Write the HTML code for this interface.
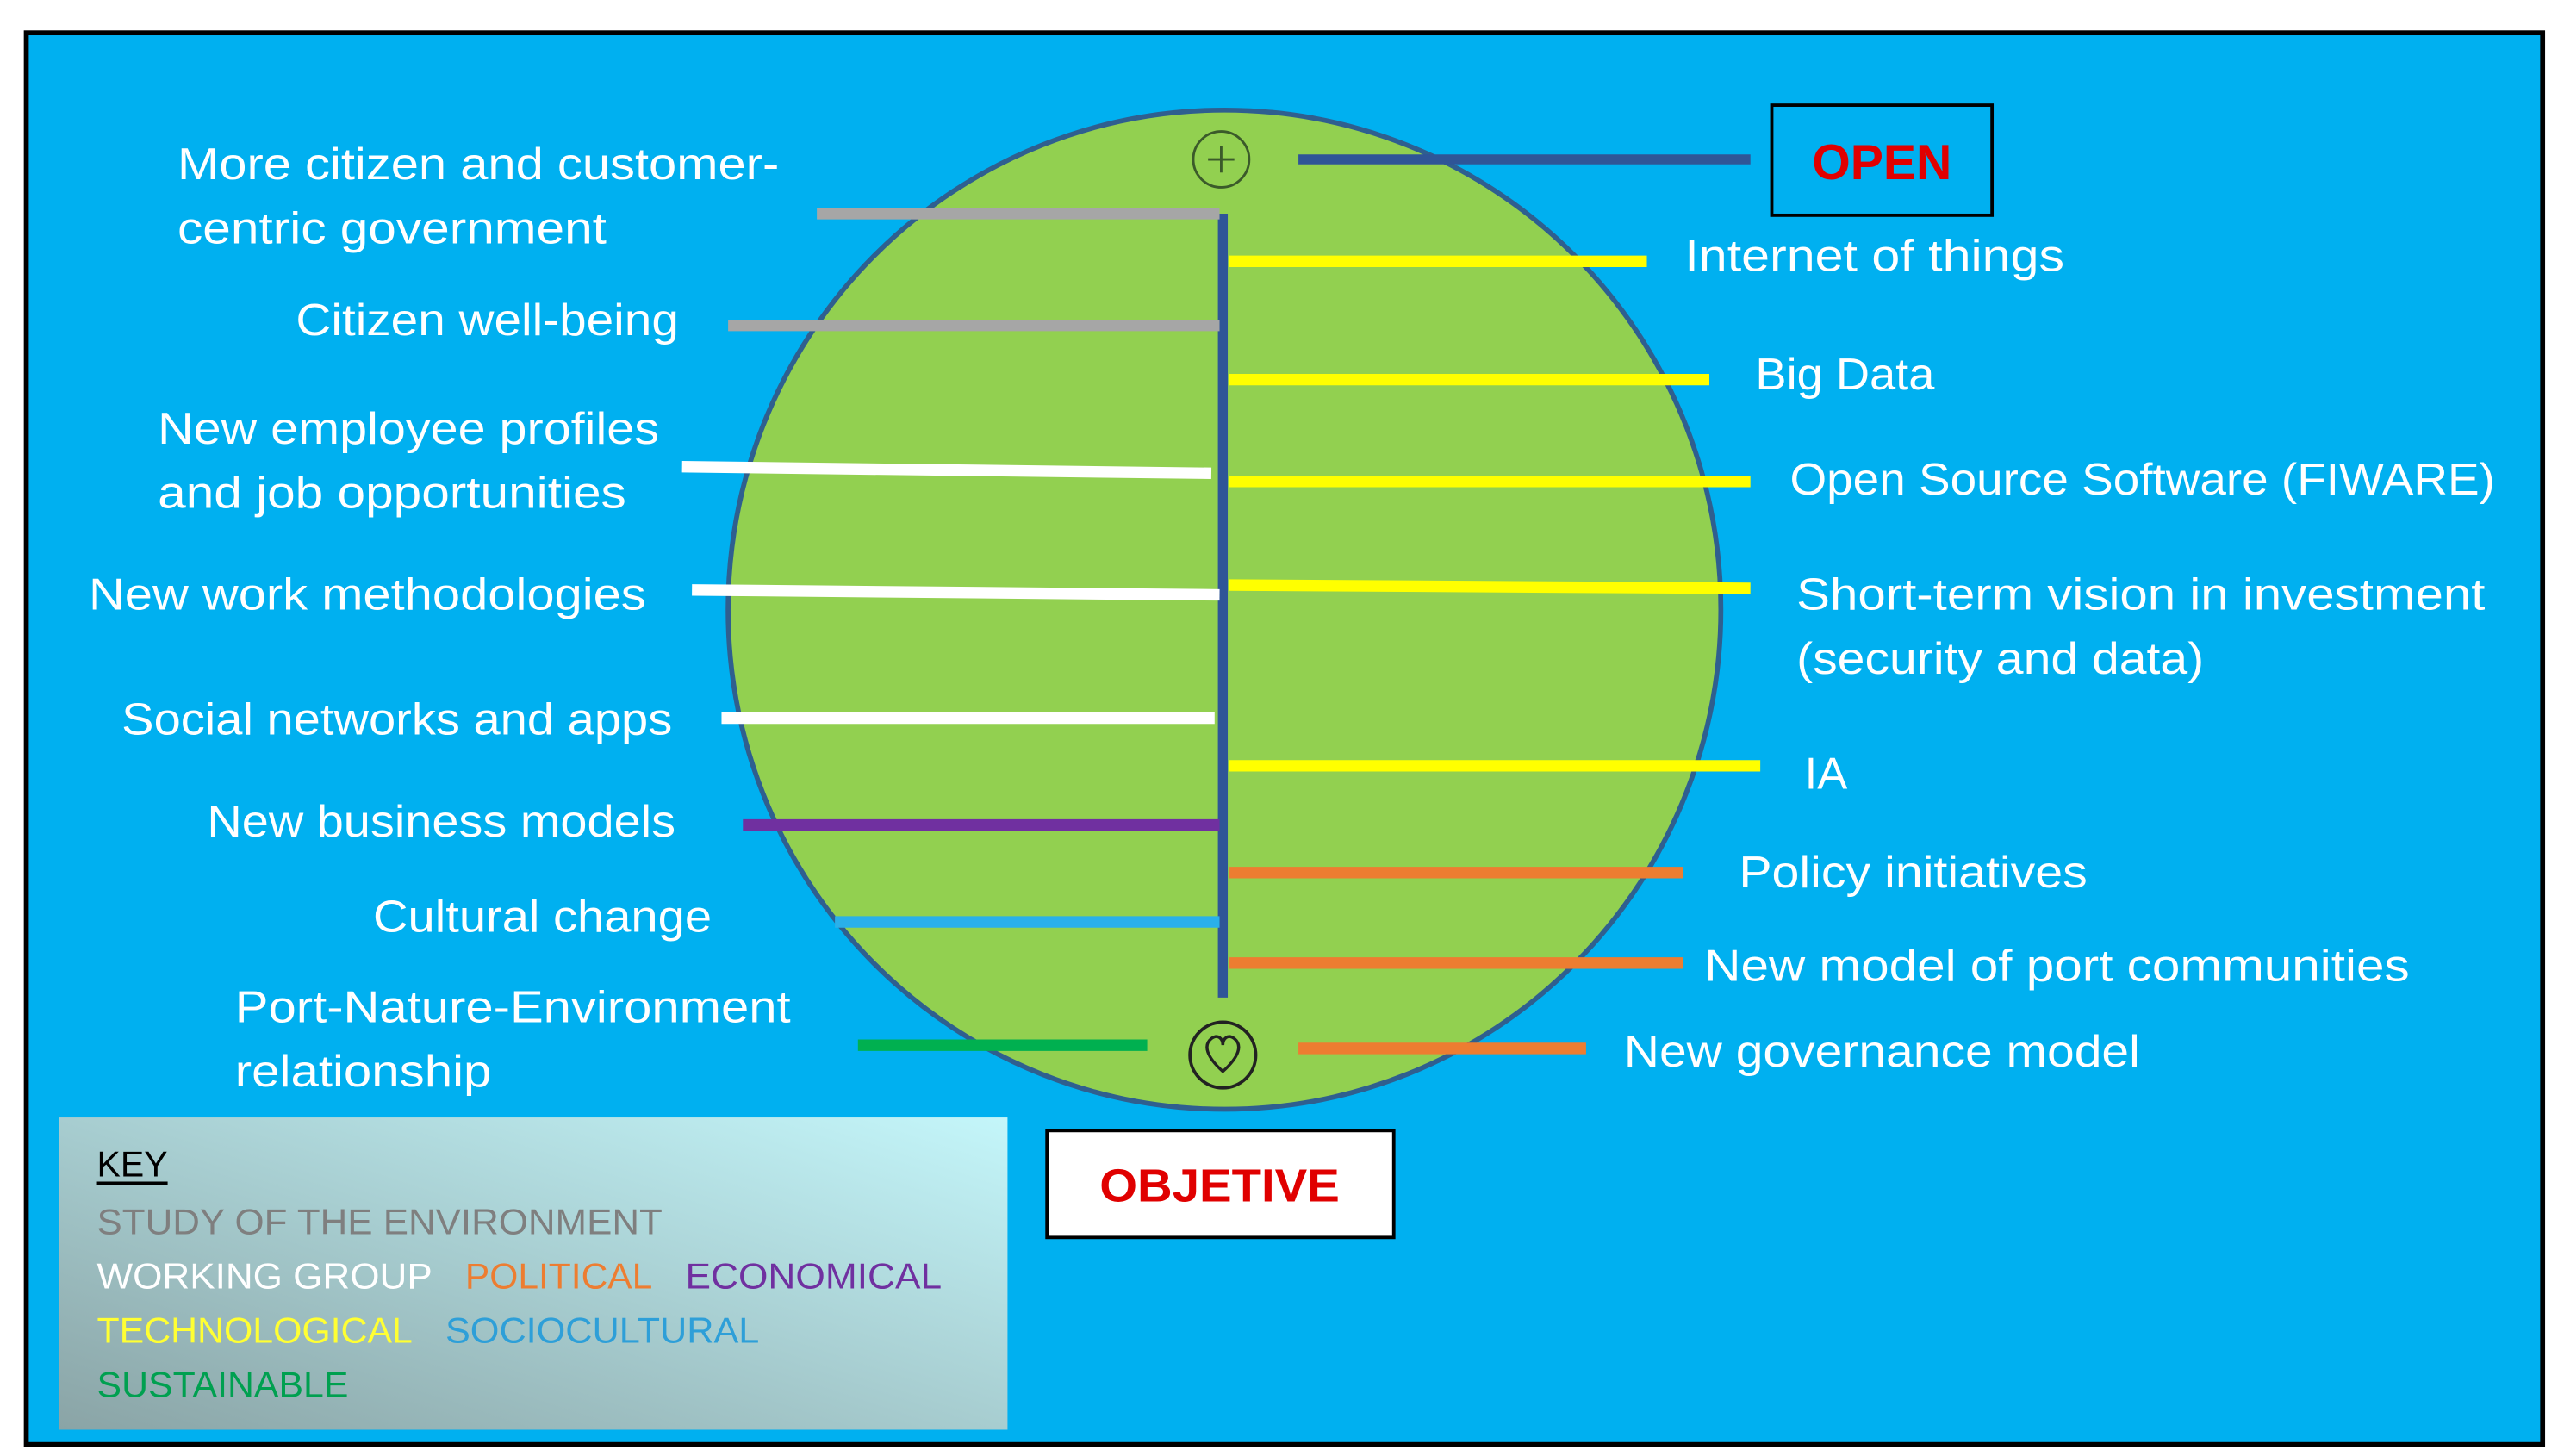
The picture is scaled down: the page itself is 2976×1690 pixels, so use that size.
<!DOCTYPE html>
<html><head><meta charset="utf-8"><style>
html,body{margin:0;padding:0;background:#fff;width:2976px;height:1690px;overflow:hidden}
svg{display:block}
text{font-family:"Liberation Sans",sans-serif}
.w{fill:#fff;font-size:27px}
.k{font-size:22px}
</style></head><body>
<svg width="2976" height="1690" viewBox="0 0 1560 886" preserveAspectRatio="none" xmlns="http://www.w3.org/2000/svg">
<defs>
<linearGradient id="g" x1="0" y1="1" x2="1" y2="0">
<stop offset="0" stop-color="#8aa4a6"/><stop offset="1" stop-color="#c4f6fa"/>
</linearGradient>
</defs>
<rect x="0" y="0" width="1560" height="886" fill="#fff"/>
<rect x="16" y="20" width="1531" height="859" fill="#00b0f0" stroke="#000" stroke-width="3"/>
<ellipse cx="745" cy="371" rx="302" ry="304" fill="#92d050" stroke="#2f5f8f" stroke-width="3"/>
<line x1="744" y1="130" x2="744" y2="607" stroke="#2f5597" stroke-width="6"/>
<line x1="790" y1="97" x2="1065" y2="97" stroke="#2f5597" stroke-width="6"/>
<circle cx="743" cy="97" r="17" fill="none" stroke="#3b5a2a" stroke-width="1.5"/>
<line x1="735" y1="97" x2="751" y2="97" stroke="#3b5a2a" stroke-width="1.5"/>
<line x1="743" y1="89" x2="743" y2="105" stroke="#3b5a2a" stroke-width="1.5"/>
<circle cx="744" cy="642" r="20" fill="none" stroke="#222" stroke-width="2"/>
<path d="M744 652 C734 643 732 636 737 632 C741 629 744 632 744 636 C744 632 747 629 751 632 C756 636 754 643 744 652 Z" fill="none" stroke="#222" stroke-width="1.8"/>
<g stroke-width="7">
<line x1="497" y1="130" x2="742" y2="130" stroke="#a6a6a6"/>
<line x1="443" y1="198" x2="742" y2="198" stroke="#a6a6a6"/>
<line x1="415" y1="284" x2="737" y2="288" stroke="#fff"/>
<line x1="421" y1="359" x2="742" y2="362" stroke="#fff"/>
<line x1="439" y1="437" x2="739" y2="437" stroke="#fff"/>
<line x1="452" y1="502" x2="742" y2="502" stroke="#7030a0"/>
<line x1="508" y1="561" x2="742" y2="561" stroke="#2ab0ea"/>
<line x1="522" y1="636" x2="698" y2="636" stroke="#00b050"/>
<line x1="748" y1="159" x2="1002" y2="159" stroke="#ffff00"/>
<line x1="748" y1="231" x2="1040" y2="231" stroke="#ffff00"/>
<line x1="748" y1="293" x2="1065" y2="293" stroke="#ffff00"/>
<line x1="748" y1="356" x2="1065" y2="358" stroke="#ffff00"/>
<line x1="748" y1="466" x2="1071" y2="466" stroke="#ffff00"/>
<line x1="748" y1="531" x2="1024" y2="531" stroke="#ed7d31"/>
<line x1="748" y1="586" x2="1024" y2="586" stroke="#ed7d31"/>
<line x1="790" y1="638" x2="965" y2="638" stroke="#ed7d31"/>
</g>
<rect x="1078" y="64" width="134" height="67" fill="none" stroke="#000" stroke-width="2"/>
<text x="1145" y="109" text-anchor="middle" font-size="30" font-weight="bold" fill="#e00000">OPEN</text>
<rect x="637" y="688" width="211" height="65" fill="#fff" stroke="#000" stroke-width="2"/>
<text x="742" y="731" text-anchor="middle" font-size="28" font-weight="bold" fill="#e00000" textLength="146" lengthAdjust="spacingAndGlyphs">OBJETIVE</text>
<g class="w">
<text x="108" y="109" textLength="366" lengthAdjust="spacingAndGlyphs">More citizen and customer-</text>
<text x="108" y="148" textLength="261" lengthAdjust="spacingAndGlyphs">centric government</text>
<text x="180" y="204" textLength="233" lengthAdjust="spacingAndGlyphs">Citizen well-being</text>
<text x="96" y="270" textLength="305" lengthAdjust="spacingAndGlyphs">New employee profiles</text>
<text x="96" y="309" textLength="285" lengthAdjust="spacingAndGlyphs">and job opportunities</text>
<text x="54" y="371" textLength="339" lengthAdjust="spacingAndGlyphs">New work methodologies</text>
<text x="74" y="447" textLength="335" lengthAdjust="spacingAndGlyphs">Social networks and apps</text>
<text x="126" y="509" textLength="285" lengthAdjust="spacingAndGlyphs">New business models</text>
<text x="227" y="567" textLength="206" lengthAdjust="spacingAndGlyphs">Cultural change</text>
<text x="143" y="622" textLength="338" lengthAdjust="spacingAndGlyphs">Port-Nature-Environment</text>
<text x="143" y="661" textLength="156" lengthAdjust="spacingAndGlyphs">relationship</text>
<text x="1025" y="165" textLength="231" lengthAdjust="spacingAndGlyphs">Internet of things</text>
<text x="1068" y="237" textLength="109" lengthAdjust="spacingAndGlyphs">Big Data</text>
<text x="1089" y="301" textLength="429" lengthAdjust="spacingAndGlyphs">Open Source Software (FIWARE)</text>
<text x="1093" y="371" textLength="419" lengthAdjust="spacingAndGlyphs">Short-term vision in investment</text>
<text x="1093" y="410" textLength="248" lengthAdjust="spacingAndGlyphs">(security and data)</text>
<text x="1098" y="480" textLength="26" lengthAdjust="spacingAndGlyphs">IA</text>
<text x="1058" y="540" textLength="212" lengthAdjust="spacingAndGlyphs">Policy initiatives</text>
<text x="1037" y="597" textLength="429" lengthAdjust="spacingAndGlyphs">New model of port communities</text>
<text x="988" y="649" textLength="314" lengthAdjust="spacingAndGlyphs">New governance model</text>
</g>
<rect x="36" y="680" width="577" height="190" fill="url(#g)"/>
<g class="k">
<text x="59" y="716" fill="#000" textLength="43" lengthAdjust="spacingAndGlyphs">KEY</text>
<line x1="59" y1="720" x2="102" y2="720" stroke="#000" stroke-width="2"/>
<text x="59" y="751" fill="#7f7f7f" textLength="344" lengthAdjust="spacingAndGlyphs">STUDY OF THE ENVIRONMENT</text>
<text x="59" y="784" fill="#fff" textLength="204" lengthAdjust="spacingAndGlyphs">WORKING GROUP</text>
<text x="283" y="784" fill="#ed7d31" textLength="114" lengthAdjust="spacingAndGlyphs">POLITICAL</text>
<text x="417" y="784" fill="#7030a0" textLength="156" lengthAdjust="spacingAndGlyphs">ECONOMICAL</text>
<text x="59" y="817" fill="#ffff33" textLength="192" lengthAdjust="spacingAndGlyphs">TECHNOLOGICAL</text>
<text x="271" y="817" fill="#2e9fd8" textLength="191" lengthAdjust="spacingAndGlyphs">SOCIOCULTURAL</text>
<text x="59" y="850" fill="#00a050" textLength="153" lengthAdjust="spacingAndGlyphs">SUSTAINABLE</text>
</g>
</svg>
</body></html>
